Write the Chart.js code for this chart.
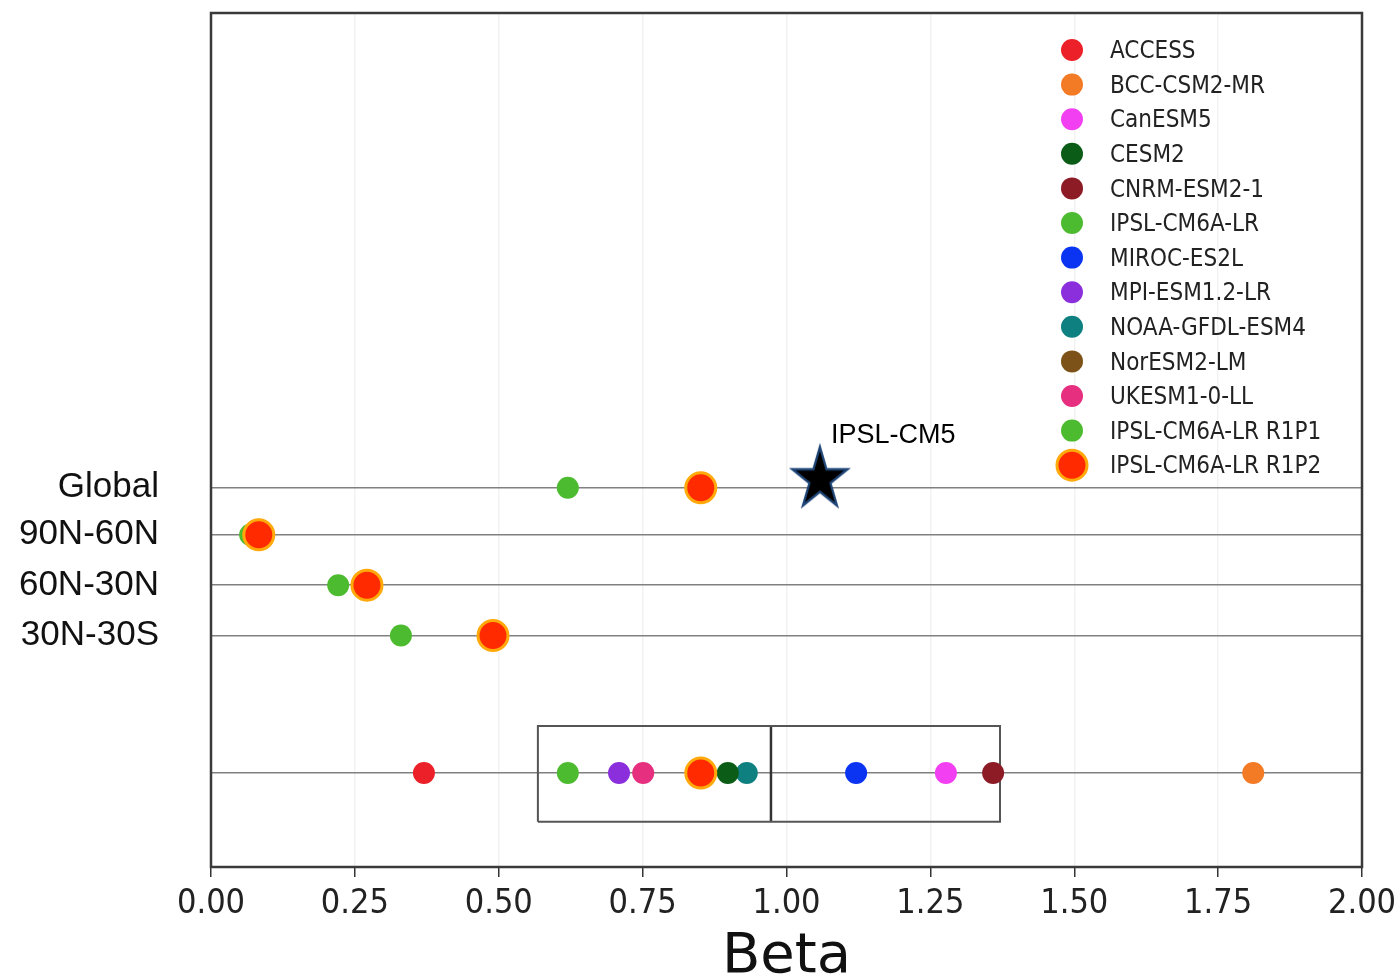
<!DOCTYPE html>
<html>
<head>
<meta charset="utf-8">
<title>Beta</title>
<script src="https://cdn.jsdelivr.net/npm/chart.js@4.4.1/dist/chart.umd.min.js"></script>
<style>
	body { margin: 0; background: #fff; }
	#beta-chart { display: block; }
</style>
</head>
<body>
<canvas id="beta-chart" width="1400" height="980"></canvas>
<script>
// rows on the y axis (y is just a 0..10 placement scale)
var regions = ["Global", "90N-60N", "60N-30N", "30N-30S"];
var regionRows = [4.44, 3.89, 3.30, 2.71];
var multiModelRow = 1.10;

var xTicks = [0, 0.25, 0.5, 0.75, 1, 1.25, 1.5, 1.75, 2];

var models = ["ACCESS", "BCC-CSM2-MR", "CanESM5", "CESM2", "CNRM-ESM2-1", "IPSL-CM6A-LR",
	"MIROC-ES2L", "MPI-ESM1.2-LR", "NOAA-GFDL-ESM4", "NorESM2-LM", "UKESM1-0-LL",
	"IPSL-CM6A-LR R1P1", "IPSL-CM6A-LR R1P2"];
var modelColors = ["#ec2028", "#f37b26", "#f23ff2", "#0b5c16", "#8c1b25", "#4dbb2f",
	"#0a33f2", "#8b2fdc", "#0f8080", "#7d5218", "#e6307f", "#4dbb2f", "#ff2a00"];
// beta of each model on the multi-model row (null = not on that row)
var multiModelBeta = [0.370, 1.811, 1.277, 0.898, 1.359, 0.620,
	1.121, 0.709, 0.931, 0.850, 0.751, null, 0.851];

// regional betas for the two IPSL-CM6A-LR runs
var r1p1Beta = [0.620, 0.068, 0.221, 0.330];
var r1p2Beta = [0.851, 0.083, 0.271, 0.490];

var cm5Name = "IPSL-CM5";
var cm5Beta = 1.058;
var cm5Row = 4.54;

// box over the multi-model row: q1, median, q3
var boxBeta = [0.568, 0.973, 1.371];
var boxRows = [0.53, 1.65];

var legendX = 1072;
var legendTop = 50;
var legendStep = 34.6;

function makeStar(r) {
	var c = document.createElement("canvas");
	var size = Math.ceil(r * 2.4 + 8);
	c.width = size;
	c.height = size;
	var ctx = c.getContext("2d");
	ctx.translate(size / 2, size / 2);
	ctx.scale(1, 1.12);
	ctx.beginPath();
	for (var k = 0; k < 10; k++) {
		var rad = (k % 2 == 0) ? r : r * 0.382;
		var a = -Math.PI / 2 + k * Math.PI / 5;
		ctx.lineTo(rad * Math.cos(a), rad * Math.sin(a));
	}
	ctx.closePath();
	ctx.fillStyle = "#000";
	ctx.fill();
	ctx.lineWidth = 2.2;
	ctx.strokeStyle = "#1f4677";
	ctx.stroke();
	return c;
}

function buildDatasets() {
	var sets = [];
	for (var i = 0; i < models.length; i++) {
		var pts = [];
		if (models[i] == "IPSL-CM6A-LR R1P1") {
			for (var j = 0; j < regions.length; j++) pts.push({x: r1p1Beta[j], y: regionRows[j]});
		}
		if (models[i] == "IPSL-CM6A-LR R1P2") {
			for (var j = 0; j < regions.length; j++) pts.push({x: r1p2Beta[j], y: regionRows[j]});
		}
		if (multiModelBeta[i] !== null) pts.push({x: multiModelBeta[i], y: multiModelRow});
		var big = models[i] == "IPSL-CM6A-LR R1P2";
		sets.push({
			label: models[i],
			data: pts,
			backgroundColor: modelColors[i],
			borderColor: big ? "#ffa90a" : modelColors[i],
			borderWidth: big ? 3 : 0,
			pointRadius: big ? 15 : 11,
			pointHoverRadius: big ? 15 : 11,
			order: big ? 0 : (models[i] == "NorESM2-LM" ? 12 : 2)
		});
	}
	sets.push({
		label: cm5Name,
		data: [{x: cm5Beta, y: cm5Row}],
		pointStyle: makeStar(29),
		pointRadius: 30,
		order: 1
	});
	// box outline and median
	sets.push({
		type: "line",
		label: "box",
		data: [
			{x: boxBeta[0], y: boxRows[0]}, {x: boxBeta[2], y: boxRows[0]},
			{x: boxBeta[2], y: boxRows[1]}, {x: boxBeta[0], y: boxRows[1]},
			{x: boxBeta[0], y: boxRows[0]}
		],
		borderColor: "#555",
		borderWidth: 2,
		pointRadius: 0,
		fill: false,
		order: 20
	});
	sets.push({
		type: "line",
		label: "median",
		data: [{x: boxBeta[1], y: boxRows[0]}, {x: boxBeta[1], y: boxRows[1]}],
		borderColor: "#333",
		borderWidth: 2.5,
		pointRadius: 0,
		fill: false,
		order: 20
	});
	return sets;
}

var framePlugin = {
	id: "frame",
	afterDatasetsDraw: function (chart) {
		var a = chart.chartArea;
		var ctx = chart.ctx;
		ctx.save();
		ctx.strokeStyle = "#3a3a3a";
		ctx.lineWidth = 2.5;
		ctx.strokeRect(a.left, a.top, a.right - a.left, a.bottom - a.top);

		// region names beside the y axis
		var yScale = chart.scales.y;
		ctx.fillStyle = "#111";
		ctx.font = "35px 'Liberation Sans', Arial, sans-serif";
		ctx.textAlign = "right";
		ctx.textBaseline = "middle";
		for (var r = 0; r < regions.length; r++) {
			ctx.fillText(regions[r], a.left - 52, yScale.getPixelForValue(regionRows[r]));
		}

		// label next to the star
		var meta = chart.getDatasetMeta(models.length);
		var p = meta.data[0];
		ctx.fillStyle = "#000";
		ctx.font = "27px 'Liberation Sans', Arial, sans-serif";
		ctx.textAlign = "left";
		ctx.fillText(cm5Name, p.x + 11, p.y - 44);

		// legend
		ctx.font = "24px 'DejaVu Sans Condensed', 'DejaVu Sans', sans-serif";
		for (var i = 0; i < models.length; i++) {
			var ds = chart.data.datasets[i];
			var y = legendTop + i * legendStep;
			ctx.beginPath();
			ctx.arc(legendX, y, ds.pointRadius, 0, Math.PI * 2);
			ctx.fillStyle = ds.backgroundColor;
			ctx.fill();
			if (ds.borderWidth) {
				ctx.lineWidth = ds.borderWidth;
				ctx.strokeStyle = ds.borderColor;
				ctx.stroke();
			}
			ctx.fillStyle = "#222";
			ctx.fillText(models[i], legendX + 38, y + 2);
		}
		ctx.restore();
	}
};

var chart = new Chart(document.getElementById("beta-chart"), {
	type: "scatter",
	data: { datasets: buildDatasets() },
	options: {
		responsive: false,
		animation: false,
		layout: { autoPadding: false, padding: { left: 0, top: 13, right: 38, bottom: 0 } },
		plugins: {
			legend: { display: false },
			tooltip: { enabled: false }
		},
		scales: {
			x: {
				type: "linear",
				min: 0,
				max: 2,
				afterBuildTicks: function (scale) {
					scale.ticks = xTicks.map(function (v) { return {value: v}; });
				},
				afterFit: function (scale) {
					scale.height = 113;
					scale.paddingLeft = 0;
					scale.paddingRight = 0;
				},
				grid: {
					color: "rgba(0,0,0,0.05)",
					lineWidth: 1.5,
					tickLength: 10,
					tickColor: "#333",
					tickWidth: 1.5
				},
				border: { display: false },
				ticks: {
					padding: 7,
					color: "#222",
					font: { family: "'DejaVu Sans Condensed', 'DejaVu Sans'", size: 34 },
					callback: function (v) { return v.toFixed(2); }
				},
				title: {
					display: true,
					text: "Beta",
					color: "#111",
					padding: { top: 0, bottom: -5 },
					font: { family: "'DejaVu Sans'", size: 56, lineHeight: 1.0 }
				}
			},
			y: {
				type: "linear",
				min: 0,
				max: 10,
				afterBuildTicks: function (scale) {
					var t = regionRows.map(function (v) { return {value: v}; });
					t.push({value: multiModelRow});
					scale.ticks = t;
				},
				afterFit: function (scale) { scale.width = 211; },
				grid: {
					color: "#808080",
					lineWidth: 1.6,
					drawTicks: false
				},
				border: { display: false },
				ticks: { display: false }
			}
		}
	},
	plugins: [framePlugin]
});
</script>
</body>
</html>
